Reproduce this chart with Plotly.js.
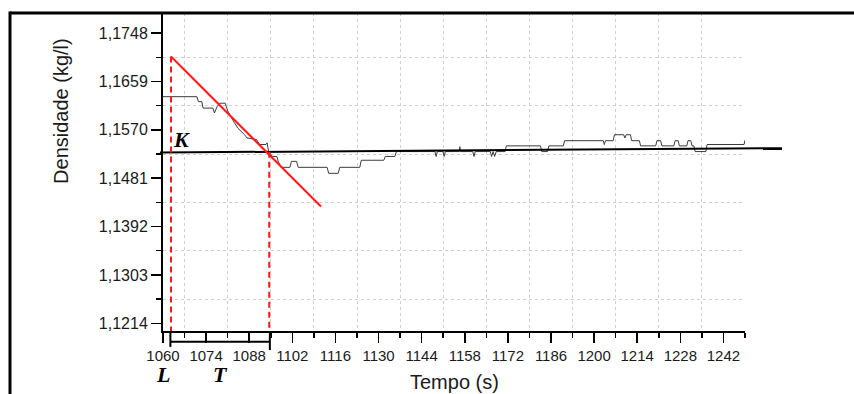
<!DOCTYPE html>
<html>
<head>
<meta charset="utf-8">
<script src="https://cdn.plot.ly/plotly-3.0.1.min.js"></script>
<style>html,body{margin:0;padding:0;background:#fff}#chart{width:854px;height:394px}</style>
</head>
<body>
<div id="chart"></div>
<script>
// ---- data ----
var timeS = [1060,1071,1071.5,1072.6,1073,1076.2,1076.7,1077.6,1078.4,1080.2,1081,1082,1083.2,1084.3,1085.5,1086.5,1087.3,1090.4,1091.3,1093.4,1093.8,1094.3,1095.5,1097.0,1097.4,1098.3,1101.2,1101.7,1103.4,1103.9,1113.3,1113.8,1116.9,1117.4,1123.9,1124.4,1131.7,1132.2,1135.3,1135.8,1148.3,1148.7,1149.1,1150.9,1151.3,1151.7,1156.2,1156.4,1156.6,1160.6,1161.0,1161.4,1166.3,1166.7,1167.2,1167.7,1168.2,1171.1,1171.5,1182.6,1183.0,1184.9,1185.3,1190.0,1190.4,1203.0,1203.3,1203.7,1206.2,1206.6,1209.6,1210.0,1210.4,1211.8,1212.2,1214.7,1215.1,1220.0,1220.4,1221.6,1222.0,1225.9,1226.3,1227.3,1227.7,1230.1,1230.5,1231.4,1231.8,1232.4,1232.8,1236.3,1236.7,1248.7,1249.0];
var densidade = [1.1631,1.1631,1.1622,1.1622,1.1610,1.1610,1.1601,1.1613,1.1619,1.1619,1.1605,1.1594,1.1583,1.1573,1.1567,1.1561,1.1555,1.1552,1.1543,1.1543,1.1546,1.1530,1.1521,1.1521,1.1512,1.1501,1.1501,1.1512,1.1512,1.1501,1.1501,1.1490,1.1490,1.1501,1.1501,1.1514,1.1514,1.1521,1.1521,1.1530,1.1530,1.1521,1.1530,1.1530,1.1521,1.1530,1.1530,1.1539,1.1530,1.1530,1.1521,1.1530,1.1530,1.1521,1.1530,1.1521,1.1530,1.1530,1.15405,1.15405,1.1530,1.1530,1.15405,1.15405,1.1550,1.1550,1.1543,1.1550,1.1550,1.1561,1.1561,1.1555,1.1561,1.1561,1.1550,1.1550,1.15405,1.15405,1.1550,1.1550,1.15405,1.15405,1.1550,1.1550,1.15405,1.15405,1.1550,1.1550,1.15405,1.15405,1.1530,1.1530,1.1543,1.1543,1.1551];

// construction lines
var kLineT = [1059, 1261];
var kLineV = [1.15282, 1.15363];
var tangentT = [1062.6, 1111.3];
var tangentV = [1.1705, 1.1429];
var markT = [1062.6, 1094.5];   // L and end of T

// axes
var xRange = [1060, 1249];
var yRange = [1.11998, 1.1785];
var xTickVals = [1060,1074,1088,1102,1116,1130,1144,1158,1172,1186,1200,1214,1228,1242];
var xMinorVals = [1067,1081,1095,1109,1123,1137,1151,1165,1179,1193,1207,1221,1235,1249];
var yTickVals = [1.1214,1.1303,1.1392,1.1481,1.1570,1.1659,1.1748];
var yTickText = ['1,1214','1,1303','1,1392','1,1481','1,1570','1,1659','1,1748'];
var yMinorVals = [1.12585,1.13475,1.14365,1.15255,1.16145,1.17035];

function toPaperX(t){ return (t - xRange[0]) / (xRange[1] - xRange[0]); }
function kAt(t){ return kLineV[0] + (t - kLineT[0]) * (kLineV[1] - kLineV[0]) / (kLineT[1] - kLineT[0]); }

var traces = [{
  x: timeS, y: densidade, type: 'scatter', mode: 'lines',
  line: {color: '#3c3c3c', width: 1}, hoverinfo: 'skip', showlegend: false
}];

var red = '#ff1a1a';
var shapes = [
  // frame
  {type:'line', xref:'paper', yref:'paper', x0:-0.2629, x1:1.2, y0:1, y1:1, line:{color:'#000', width:3}},
  {type:'line', xref:'paper', yref:'paper', x0:-0.2629, x1:-0.2629, y0:1.005, y1:-0.21, line:{color:'#000', width:3}},
  // K line
  {type:'line', xref:'paper', yref:'y', x0:toPaperX(kLineT[0]), x1:toPaperX(kLineT[1]), y0:kLineV[0], y1:kLineV[1], line:{color:'#000', width:2}, layer:'above'},
  // tangent
  {type:'line', xref:'x', yref:'y', x0:tangentT[0], x1:tangentT[1], y0:tangentV[0], y1:tangentV[1], line:{color:red, width:2}, layer:'above'},
  // dashed verticals
  {type:'line', xref:'x', yref:'y', x0:markT[0], x1:markT[0], y0:tangentV[0], y1:yRange[0], line:{color:red, width:2, dash:'6px,4px'}, layer:'above'},
  {type:'line', xref:'x', yref:'y', x0:markT[1], x1:markT[1], y0:kAt(markT[1]), y1:yRange[0], line:{color:red, width:2, dash:'6px,4px'}, layer:'above'},
  // T bracket
  {type:'line', xref:'x', yref:'paper', x0:markT[0]-0.2, x1:markT[1]+0.2, y0:-0.034, y1:-0.034, line:{color:'#000', width:2}},
  {type:'line', xref:'x', yref:'paper', x0:markT[0]-0.2, x1:markT[0]-0.2, y0:0, y1:-0.05, line:{color:'#000', width:2}},
  {type:'line', xref:'x', yref:'paper', x0:markT[1]+0.2, x1:markT[1]+0.2, y0:0, y1:-0.06, line:{color:'#000', width:2}}
];

var serif = {family:'"Liberation Serif", "Times New Roman", serif', size:22, color:'#000'};
var annotations = [
  {xref:'x', yref:'y', x:1065.9, y:1.15515, text:'<b><i>K</i></b>', showarrow:false, font:serif},
  {xref:'x', yref:'paper', x:1060, y:-0.137, yanchor:'middle', text:'<b><i>L</i></b>', showarrow:false, font:serif},
  {xref:'x', yref:'paper', x:(markT[0]+markT[1])/2, y:-0.137, yanchor:'middle', text:'<b><i>T</i></b>', showarrow:false, font:serif},
  {xref:'paper', yref:'paper', x:-0.1753, y:0.692, text:'Densidade (kg/l)', textangle:-90, showarrow:false,
   xanchor:'center', yanchor:'middle', font:{family:'"Liberation Sans", Arial, sans-serif', size:20, color:'#1a1a1a'}},
  {xref:'paper', yref:'paper', x:0.5017, y:-0.16, text:'Tempo (s)', showarrow:false,
   xanchor:'center', yanchor:'middle', font:{family:'"Liberation Sans", Arial, sans-serif', size:20, color:'#1a1a1a'}}
];

var gridCol = '#cfcfcf';
var layout = {
  width: 854, height: 394,
  margin: {l:163, r:109, t:13, b:63, pad:0},
  paper_bgcolor: '#fff', plot_bgcolor: '#fff',
  showlegend: false,
  font: {family:'"Liberation Sans", Arial, sans-serif', color:'#1a1a1a'},
  xaxis: {
    range: xRange, tickmode:'array', tickvals: xTickVals, ticktext: xTickVals.map(String),
    ticks:'outside', ticklen:10, tickwidth:1.5, tickcolor:'#000',
    showline:true, linecolor:'#000', linewidth:2, showgrid:false, zeroline:false,
    tickfont:{size:15, color:'#1a1a1a'},
    minor:{tickmode:'array', tickvals:xMinorVals, ticks:'outside', ticklen:5, tickwidth:1.5, tickcolor:'#000',
           showgrid:true, gridcolor:gridCol, griddash:'3px,3px', gridwidth:1}
  },
  yaxis: {
    range: yRange, tickmode:'array', tickvals: yTickVals, ticktext: yTickText,
    ticks:'outside', ticklen:10, tickwidth:1.5, tickcolor:'#000',
    showline:true, linecolor:'#000', linewidth:2, showgrid:false, zeroline:false,
    tickfont:{size:16, color:'#1a1a1a'},
    minor:{tickmode:'array', tickvals:yMinorVals, ticks:'outside', ticklen:5, tickwidth:1.5, tickcolor:'#000',
           showgrid:true, gridcolor:gridCol, griddash:'3px,3px', gridwidth:1}
  },
  shapes: shapes,
  annotations: annotations
};

Plotly.newPlot('chart', traces, layout, {staticPlot:true, displayModeBar:false});
</script>
</body>
</html>
